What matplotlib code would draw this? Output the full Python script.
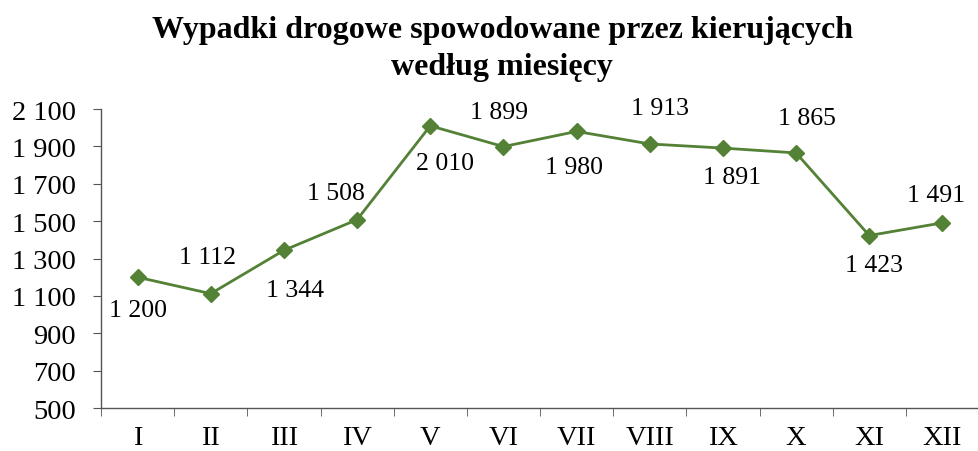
import matplotlib
matplotlib.use("Agg")
import matplotlib.pyplot as plt
import numpy as np
from matplotlib.ticker import FixedLocator, FuncFormatter

months = ["I", "II", "III", "IV", "V", "VI", "VII", "VIII", "IX", "X", "XI", "XII"]
values = [1200, 1112, 1344, 1508, 2010, 1899, 1980, 1913, 1891, 1865, 1423, 1491]
yticks = [500, 700, 900, 1100, 1300, 1500, 1700, 1900, 2100]

# label offsets from each point in pixels (dx right, dy down) – layout only
label_dx = [0, -3, 11, -21, 15, -4, -3, 10, 9, 11, 5, -6]
label_dy = [33, -37, 40, -27, 37, -35, 36, -36, 29, -35, 29, -28]

plt.rcParams['font.family'] = ['Liberation Serif', 'DejaVu Serif']

def fmt(v):
    return f"{int(v):,}".replace(",", " ")

DPI = 100
fig = plt.figure(figsize=(9.79, 4.52), dpi=DPI)
ax = fig.add_axes([0.1032, 0.0951, 0.8968, 0.6615])

x = np.arange(1, len(months) + 1)
color = "#538135"
ax.plot(x, values, color=color, lw=2, marker="D", markersize=8.5, zorder=3)

px2pt = 72.0 / DPI
for xi, v, dx, dy in zip(x, values, label_dx, label_dy):
    ax.annotate(fmt(v), (xi, v), xytext=(dx * px2pt, -dy * px2pt), textcoords="offset points",
                ha="center", va="center", fontsize=18.5, color="black")

ax.set_xlim(0.5, 12.5)
ax.set_ylim(500, 2100)
ax.set_yticks(yticks)
ax.yaxis.set_major_formatter(FuncFormatter(lambda v, p: fmt(v)))
ax.set_xticks(x)
ax.set_xticklabels(months)
ax.xaxis.set_minor_locator(FixedLocator(np.arange(0.5, 12.6, 1)))
ax.tick_params(axis="x", which="major", length=0, pad=12, labelsize=20.5)
ax.tick_params(axis="x", which="minor", length=6, color="#555555", direction="out")
ax.tick_params(axis="y", length=6, color="#555555", direction="out", labelsize=20.5, pad=12)

for s in ["top", "right"]:
    ax.spines[s].set_visible(False)
for s in ["left", "bottom"]:
    ax.spines[s].set_color("#555555")
    ax.spines[s].set_linewidth(1)

fig.text(0.513, 0.933, "Wypadki drogowe spowodowane przez kierujących", ha="center", va="center",
         fontsize=23, fontweight="bold")
fig.text(0.513, 0.85, "według miesięcy", ha="center", va="center",
         fontsize=23, fontweight="bold")

fig.savefig("out.png", dpi=DPI)
